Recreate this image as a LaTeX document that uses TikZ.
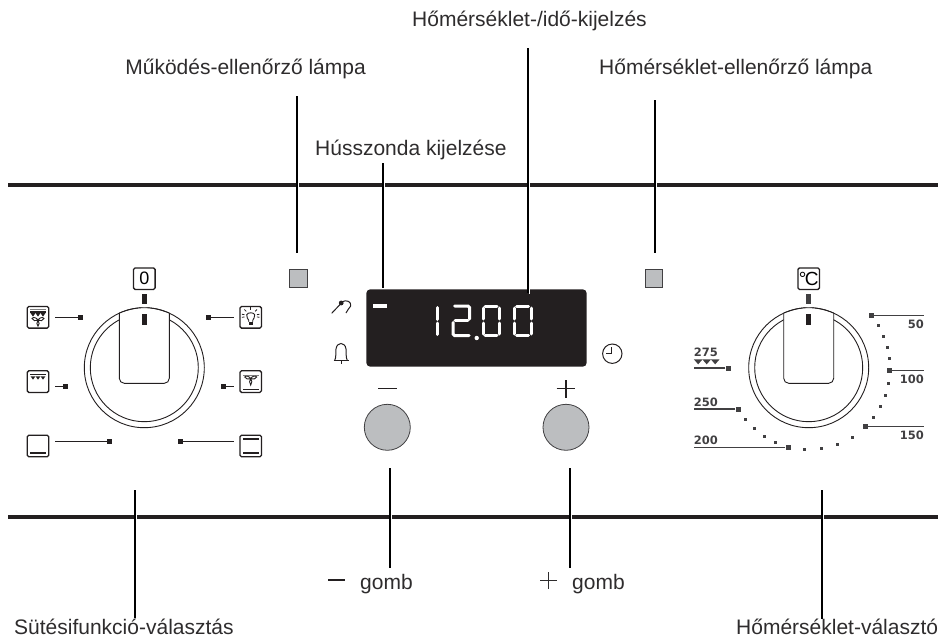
\documentclass[tikz,border=0pt]{standalone}
\usepackage{fontspec}
\setmainfont{Liberation Sans}
\newfontfamily\numfont{DejaVu Sans}[BoldFont={DejaVu Sans Bold}]
\definecolor{ink}{HTML}{231F20}
\definecolor{txt}{HTML}{2E2C2D}
\definecolor{midg}{HTML}{414042}
\definecolor{knob}{HTML}{BCBEC0}
\tikzset{
  lbl/.style={anchor=base west,inner sep=0pt,text=txt,font=\fontsize{21}{24}\selectfont},
  leader/.style={draw=black,line width=2pt},
  bar/.style={draw=ink,line width=4pt},
  iconbox/.style={draw=ink,line width=1.3pt,rounded corners=1.6pt,minimum size=21.6pt,inner sep=0pt,fill=white},
  tick/.style={fill=ink,minimum size=5pt,inner sep=0pt},
  tmark/.style={fill=midg,minimum size=5pt,inner sep=0pt},
  dotm/.style={fill=midg,minimum size=3pt,inner sep=0pt},
  thin/.style={draw=ink,line width=0.9pt},
  scaleline/.style={draw=midg,line width=1.1pt},
  num/.style={inner sep=0pt,text=midg,font=\numfont\bfseries\fontsize{11.5}{12}\selectfont},
  seg/.style={draw=white,line width=3pt,line cap=round},
  lamp/.style={draw=midg,line width=1pt,fill=knob,minimum size=17.5pt,inner sep=0pt},
  btn/.style={circle,draw=midg,line width=0.8pt,fill=knob,minimum size=46pt,inner sep=0pt},
}
\newcommand{\grilltri}[3]{%
  \fill[ink] (#1-2.4,#2) -- (#1+2.4,#2) -- (#1,#2+#3) -- cycle;}
\begin{document}
\begin{tikzpicture}[x=1pt,y=-1pt]
\useasboundingbox (0,0) rectangle (938,637);
% panel bars
\coordinate (barAl) at (8,185);   \coordinate (barAr) at (938,185);
\coordinate (barBl) at (8,517);   \coordinate (barBr) at (938,517);
\draw[bar] (barAl) -- (barAr);
\draw[bar] (barBl) -- (barBr);
% halos
\foreach \hx/\hy in {296.7/185,383/185,527.7/185,655/185,135/517,390/517,570/517,822/517}
  \fill[white] (\hx+1,\hy-3) rectangle (\hx+2.4,\hy+3);

% labels
\node[lbl] (lTime) at (412,27) {Hőmérséklet-/idő-kijelzés};
\node[lbl,anchor=base east] (lWork) at (366,74) {Működés-ellenőrző lámpa};
\node[lbl] (lTemp) at (599,74) {Hőmérséklet-ellenőrző lámpa};
\node[lbl] (lMeat) at (315,155) {Hússzonda kijelzése};
\node[lbl] (lFunc) at (14,634) {Sütésifunkció-választás};
\node[lbl] (lSel) at (736,634) {Hőmérséklet-választó};
\node[lbl] (lMinus) at (360,589) {gomb};
\node[lbl] (lPlus) at (572,589) {gomb};

% left knob
\def\kx{144.3}\def\ky{367.7}
\coordinate (kL) at (\kx,\ky);
\draw[thin] (kL) circle (60);
\draw[thin] (kL) circle (54);
\fill[white] (\kx-25,313.2) -- (\kx-25,383.3) -- (\kx+25,383.3) -- (\kx+25,313.2) -- (\kx,307) -- cycle;
\draw[thin,rounded corners=5pt] (\kx-25,313.2) -- (\kx-25,383.3) -- (\kx+25,383.3) -- (\kx+25,313.2);
\draw[thin] (\kx,\ky) ++(-115:60) arc (-115:-65:60);
\fill[ink] (\kx-2.4,313.7) rectangle (\kx+2.4,324.7);
\fill[ink] (\kx-2.4,294) rectangle (\kx+2.4,303.7);
\node[iconbox] (zero) at (144.3,278.7) {\fontsize{18}{18}\selectfont 0};

% function icons
\node[iconbox] (iA) at (38,317.3) {};
\node[iconbox] (iB) at (38,381.6) {};
\node[iconbox] (iC) at (38,446) {};
\node[iconbox] (iD) at (250.7,317.3) {};
\node[iconbox] (iE) at (250.7,381.6) {};
\node[iconbox] (iF) at (250.7,446) {};
\fill[gray] (30,309) rectangle (46,310.3);
\fill[ink] (30,311.2) rectangle (46,312.5);
\grilltri{33}{313.2}{3.4}\grilltri{38}{313.2}{3.4}\grilltri{43}{313.2}{3.4}
\begin{scope}[shift={(38,318.5)},yscale=0.9]\draw[ink,line width=0.9pt] (0,2) .. controls (-1,-1) and (-5,-2) .. (-6,0) .. controls (-5.5,2.5) and (-2,3) .. (0,2) .. controls (1,-1) and (5,-2) .. (6,0) .. controls (5.5,2.5) and (2,3) .. (0,2) .. controls (-1.5,4) and (-1.5,7) .. (0,8.5) .. controls (1.5,7) and (1.5,4) .. (0,2);\end{scope}
\fill[ink] (30,373.6) rectangle (46,375.2);
\grilltri{33}{376.3}{3.4}\grilltri{38}{376.3}{3.4}\grilltri{43}{376.3}{3.4}
\fill[ink] (30,452.2) rectangle (46,453.8);
\begin{scope}[shift={(250.7,317.3)}]
  \draw[ink,line width=0.9pt] (-2,4.5) -- (-2,3) .. controls (-2.5,1.5) and (-4.5,0) .. (-4,-2.5) .. controls (-3.5,-5.2) and (3.5,-5.2) .. (4,-2.5) .. controls (4.5,0) and (2.5,1.5) .. (2,3) -- (2,4.5);
  \fill[ink] (-2,4.5) rectangle (2,7.5);
  \foreach \a in {-170,-135,-90,-45,-10,170,10}
    \draw[ink,line width=0.8pt] (0,-1.5) ++(\a:6.3) -- ++(\a:2.6);
\end{scope}
\fill[gray] (242.7,375) rectangle (258.7,376);
\fill[ink] (242.7,388.6) rectangle (258.7,389.9);
\begin{scope}[shift={(250.7,377)},yscale=0.85]\draw[ink,line width=0.9pt] (0,2) .. controls (-1,-1) and (-5,-2) .. (-6,0) .. controls (-5.5,2.5) and (-2,3) .. (0,2) .. controls (1,-1) and (5,-2) .. (6,0) .. controls (5.5,2.5) and (2,3) .. (0,2) .. controls (-1.5,4) and (-1.5,7) .. (0,9.5) .. controls (1.5,7) and (1.5,4) .. (0,2);\end{scope}
\fill[ink] (242.7,438.2) rectangle (258.7,439.8);
\fill[ink] (242.7,452.2) rectangle (258.7,453.8);

% function ticks
\node[tick] (tA) at (80.7,317) {};
\node[tick] (tB) at (65,386) {};
\node[tick] (tC) at (109,441.7) {};
\node[tick] (tD) at (208,317) {};
\node[tick] (tE) at (223.3,386) {};
\node[tick] (tF) at (180,441.7) {};
\foreach \t/\i in {tA/iA,tB/iB,tC/iC}
  \draw[draw=ink,line width=1pt,shorten >=5.4pt] (\t.center) -- (\t.center -| \i.east);
\foreach \t/\i in {tD/iD,tE/iE,tF/iF}
  \draw[draw=ink,line width=1pt,shorten >=5.1pt] (\t.center) -- (\t.center -| \i.west);

% symbols left of display
\draw[ink,line width=1pt] (331.7,313.3) -- (340.5,304);
\fill[ink] (341.2,303) circle (2.4);
\draw[ink,line width=1pt] (341.5,302) .. controls (347,299) and (351.5,302) .. (350.7,306) .. controls (350.2,308.5) and (346.5,309.5) .. (346,313);
\draw[ink,line width=1pt] (333.5,360.5) -- (348.5,360.5);
\draw[ink,line width=1pt] (334.7,360.5) .. controls (336.5,357) and (335.5,352) .. (336,349) .. controls (336.5,345) and (339,343.5) .. (341,343.5) .. controls (343,343.5) and (345.5,345) .. (346,349) .. controls (346.5,352) and (345.5,357) .. (347.3,360.5);
\draw[ink,line width=1pt] (341,360.5) -- (341,363.5);

% display
\node[draw=none,fill=ink,rounded corners=4pt,minimum width=220.4pt,minimum height=77.4pt,inner sep=0pt] (disp) at (476.5,328) {};
\fill[white] (373,303.7) rectangle (387,308);
% digits
\draw[seg] (437.5,307.5) -- (437.5,319.5);
\draw[seg] (437.5,323) -- (437.5,334.5);
\begin{scope}[shift={(453,0)}]
\draw[seg] (1.5,306) -- (15,306) -- (16.5,307.5) -- (16.5,319);\draw[seg] (15,320.5) -- (2,320.5);\draw[seg] (0,322.5) -- (0,334) -- (1.5,335.5) -- (16,335.5);
\end{scope}
\foreach \dx in {483,514.5}{
\begin{scope}[shift={(\dx,0)}]
\draw[seg] (2,306) -- (14,306);
\draw[seg] (0,308) -- (0,319); \draw[seg] (16.5,308) -- (16.5,319);
\draw[seg] (0,323) -- (0,334); \draw[seg] (16.5,323) -- (16.5,334);
\draw[seg] (2,335.5) -- (14,335.5);
\end{scope}}
\fill[white] (476.7,338) circle (2.2);

% clock
\coordinate (clk) at (612.3,353.7);
\draw[ink,line width=1pt] (clk) circle (9.7);
\draw[ink,line width=1pt] (611.7,347.3) -- (611.7,353.3) -- (606,353.3);

% lamps
\node[lamp] (lampL) at (298.5,278.5) {};
\node[lamp] (lampR) at (654,278.5) {};

% buttons
\node[btn] (btnM) at (387.3,427.3) {};
\node[btn] (btnP) at (566,427.3) {};
\draw[ink,line width=1.2pt] (378,388.7) -- (396.7,388.7);
\draw[ink,line width=1.2pt] (556.7,388.7) -- (575.3,388.7);
\draw[ink,line width=1.2pt] (566,380) -- (566,398);
\draw[ink,line width=1.3pt] (328,580) -- (344.7,580);
\draw[txt,line width=1pt] (540,580) -- (556.7,580);
\draw[txt,line width=1pt] (548.3,572) -- (548.3,588.7);

% right knob
\def\kx{808.7}
\coordinate (kR) at (\kx,\ky);
\draw[thin] (kR) circle (60);
\draw[thin] (kR) circle (54);
\fill[white] (\kx-25,313.2) -- (\kx-25,383.3) -- (\kx+25,383.3) -- (\kx+25,313.2) -- (\kx,307) -- cycle;
\draw[thin,rounded corners=5pt] (\kx-25,313.2) -- (\kx-25,383.3) -- (\kx+25,383.3) -- (\kx+25,313.2);
\draw[thin] (\kx,\ky) ++(-115:60) arc (-115:-65:60);
\fill[ink] (\kx-2.4,313.7) rectangle (\kx+2.4,324.7);
\fill[midg] (\kx-2.4,294) rectangle (\kx+2.4,303.7);
\node[iconbox] (degc) at (\kx,278.7) {\fontsize{19}{19}\selectfont °\kern-1.5pt C};

% temperature scale
\node[tmark] (m50) at (871.7,315.3) {};
\node[tmark] (m100) at (889.7,370.7) {};
\node[tmark] (m150) at (865.7,426.7) {};
\node[tmark] (m200) at (788,447.7) {};
\node[tmark] (m250) at (738,409) {};
\node[tmark] (m275) at (728,368) {};
\coordinate (e50) at (924,315.3);
\coordinate (e100) at (924,370.7);
\coordinate (e150) at (924,426.7);
\coordinate (e200) at (693.7,447.7);
\coordinate (e250) at (693.7,409);
\coordinate (e275) at (693.7,368);
\foreach \a/\b in {m50/e50,m100/e100,m150/e150,m200/e200,m250/e250,m275/e275}
  \draw[scaleline] (\a) -- (\b);
\node[num,anchor=base east] (n50) at (924,328) {50};
\node[num,anchor=base east] (n100) at (924,383.3) {100};
\node[num,anchor=base east] (n150) at (924,439.3) {150};
\node[num,anchor=base west] (n200) at (693.7,444.7) {200};
\node[num,anchor=base west] (n250) at (693.7,406) {250};
\node[num,anchor=base west] (n275) at (693.7,356) {275};
\foreach \px/\py in {624/226,640/258,652/292,659/326,656/399,646/436,631/470,611/501,547/561,502/583,453/595,403/599,317/577,284/558,254/535,227/507}
  \node[dotm] at ({670+\px/3},{250+\py/3}) {};
\foreach \tx in {698.2,706.7,715.2}
  \fill[midg] (\tx-4.4,359.3) -- (\tx+4.4,359.3) -- (\tx,364.3) -- cycle;

% leaders
\coordinate (a1) at (296.7,96);  \coordinate (a2) at (296.7,252.7);
\coordinate (b1) at (383,163);   \coordinate (b2) at (383,288);
\coordinate (c1) at (527.7,48);  \coordinate (c2) at (527.7,293);
\coordinate (d1) at (655,100);   \coordinate (d2) at (655,252.7);
\coordinate (e1) at (135,490);   \coordinate (e2) at (135,618);
\coordinate (f1) at (390,468);   \coordinate (f2) at (390,567.7);
\coordinate (g1) at (570,468);   \coordinate (g2) at (570,567.7);
\coordinate (h1) at (822,490);   \coordinate (h2) at (822,619);
\fill[white] (528.7,289) rectangle (529.7,294);
\foreach \u/\v in {a1/a2,b1/b2,c1/c2,d1/d2,e1/e2,f1/f2,g1/g2,h1/h2}
  \draw[leader] (\u) -- (\v);
\end{tikzpicture}
\end{document}
